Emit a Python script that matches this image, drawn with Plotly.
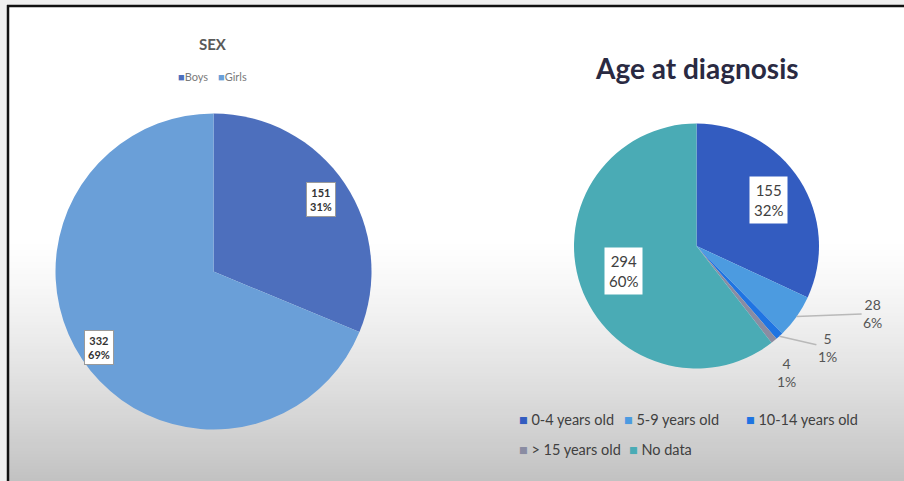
import math
import plotly.graph_objects as go

W, H = 904, 481
FONT = "Lato"

# ---------------- data ----------------
sex_labels = ["Boys", "Girls"]
sex_values = [151, 332]

age_labels = ["0-4 years old", "5-9 years old", "10-14 years old", "> 15 years old", "No data"]
age_values = [155, 28, 5, 4, 294]

# ---------------- style ----------------
sex_colors = ["#4d6fbd", "#6a9fd8"]
age_colors = ["#335cc0", "#4c9be0", "#1f74e2", "#8a8ca2", "#4aabb5"]

# pie geometry in pixels (center x, center y, radius)
SEX_C = (213.5, 271.5, 158.0)
AGE_C = (696.5, 246.0, 122.5)


def domain_of(c):
    cx, cy, r = c
    return dict(x=[(cx - r) / W, (cx + r) / W],
                y=[1 - (cy + r) / H, 1 - (cy - r) / H])


def mid_point(c, values, i, k):
    cx, cy, r = c
    tot = sum(values)
    start = sum(values[:i]) / tot
    end = start + values[i] / tot
    ang = 2 * math.pi * (start + end) / 2
    px = cx + k * r * math.sin(ang)
    py = cy - k * r * math.cos(ang)
    return px / W, 1 - py / H


def pct(values, i):
    return f"{round(values[i] / sum(values) * 100)}%"


fig = go.Figure()

fig.add_trace(go.Pie(
    labels=sex_labels, values=sex_values, sort=False, direction="clockwise", rotation=0,
    marker=dict(colors=sex_colors, line=dict(width=0)),
    textinfo="none", hoverinfo="label+value+percent",
    domain=domain_of(SEX_C), showlegend=False,
))
fig.add_trace(go.Pie(
    labels=age_labels, values=age_values, sort=False, direction="clockwise", rotation=0,
    marker=dict(colors=age_colors, line=dict(width=0)),
    textinfo="none", hoverinfo="label+value+percent",
    domain=domain_of(AGE_C), showlegend=False,
))

annotations = []
CM = dict(xref="paper", yref="paper", xanchor="center", yanchor="middle")
GAP = "\u202f"

# titles
annotations.append(dict(x=213 / W, y=1 - 44 / H, text="<b>SEX</b>", showarrow=False,
                        font=dict(family=FONT, size=15, color="#5a5a5a"), **CM))
annotations.append(dict(x=697 / W, y=1 - 68 / H, text="<b>Age at diagnosis</b>", showarrow=False,
                        font=dict(family=FONT, size=28, color="#2a2a42"), **CM))

# SEX legend
sex_leg_x = [176, 216]
for i, lab in enumerate(sex_labels):
    annotations.append(dict(
        x=sex_leg_x[i] / W, y=1 - 76 / H, xref="paper", yref="paper", xanchor="left", yanchor="middle",
        text=f"<span style='color:{sex_colors[i]}'>■</span>{lab}",
        showarrow=False, font=dict(family=FONT, size=11, color="#7a7a7a")))

# Age legend
age_leg_pos = [(517, 419), (622, 419), (744, 419), (517, 449), (627, 449)]
for i, lab in enumerate(age_labels):
    px, py = age_leg_pos[i]
    annotations.append(dict(
        x=px / W, y=1 - py / H, xref="paper", yref="paper", xanchor="left", yanchor="middle",
        text=f"<span style='color:{age_colors[i]}'>■</span>{GAP}{lab}",
        showarrow=False, font=dict(family=FONT, size=14.5, color="#404040")))

# SEX data labels (boxed)
sex_k = [0.82, 0.87]
for i in range(len(sex_values)):
    x, y = mid_point(SEX_C, sex_values, i, sex_k[i])
    annotations.append(dict(
        x=x, y=y, showarrow=False,
        text=f"<b>{sex_values[i]}<br>{pct(sex_values, i)}</b>",
        font=dict(family=FONT, size=11, color="#333333"),
        bgcolor="#ffffff", bordercolor="#9a9a9a", borderwidth=1, borderpad=3, **CM))

# Age data labels: inside boxed ones
age_inside = {0: 0.70, 4: 0.63}
for i, k in age_inside.items():
    x, y = mid_point(AGE_C, age_values, i, k)
    annotations.append(dict(
        x=x, y=y, showarrow=False,
        text=f"{age_values[i]}<br>{pct(age_values, i)}",
        font=dict(family=FONT, size=15, color="#404040"),
        bgcolor="#ffffff", borderpad=4, **CM))

# Age data labels: outside with leader lines (pixel offsets)
age_outside = {1: (76, -3, True), 2: (48, 11, True), 3: (12, 32, False)}
for i, (ax, ay, line) in age_outside.items():
    x, y = mid_point(AGE_C, age_values, i, 1.0)
    annotations.append(dict(
        x=x, y=y, ax=ax, ay=ay,
        showarrow=True, arrowhead=0, arrowwidth=1.5,
        arrowcolor="#b9b9b9" if line else "rgba(0,0,0,0)",
        standoff=0, startstandoff=0,
        text=f"{age_values[i]}<br>{pct(age_values, i)}",
        font=dict(family=FONT, size=14, color="#555555"), **CM))

# background: white top fading to grey at the bottom
shapes = []
g0, g1 = 235, H
step = 3
y = g0
while y < g1:
    t = (y - g0) / (g1 - g0)
    v = int(round(255 - 62 * t ** 1.3))
    shapes.append(dict(type="rect", xref="paper", yref="paper", layer="below",
                       x0=0, x1=1, y0=1 - (y + step) / H, y1=1 - y / H,
                       fillcolor=f"rgb({v},{v},{v})", line=dict(width=0)))
    y += step

# outer light frame and black border (top & left)
shapes.append(dict(type="rect", xref="paper", yref="paper", layer="below",
                   x0=0, x1=1, y0=1 - 5 / H, y1=1, fillcolor="#efefef", line=dict(width=0)))
shapes.append(dict(type="rect", xref="paper", yref="paper", layer="below",
                   x0=0, x1=7 / W, y0=0, y1=1, fillcolor="#efefef", line=dict(width=0)))
shapes.append(dict(type="line", xref="paper", yref="paper", layer="above",
                   x0=7 / W, x1=1, y0=1 - 6 / H, y1=1 - 6 / H, line=dict(color="#111111", width=2.5)))
shapes.append(dict(type="line", xref="paper", yref="paper", layer="above",
                   x0=8 / W, x1=8 / W, y0=0, y1=1 - 5 / H, line=dict(color="#111111", width=2.5)))

fig.update_layout(
    width=W, height=H,
    margin=dict(l=0, r=0, t=0, b=0),
    paper_bgcolor="#ffffff", plot_bgcolor="rgba(0,0,0,0)",
    annotations=annotations, shapes=shapes,
    font=dict(family=FONT),
    showlegend=False,
)

fig.write_html("out.html", config={"displayModeBar": False},
               post_script="document.body.style.margin='0';document.body.style.overflow='hidden';")
